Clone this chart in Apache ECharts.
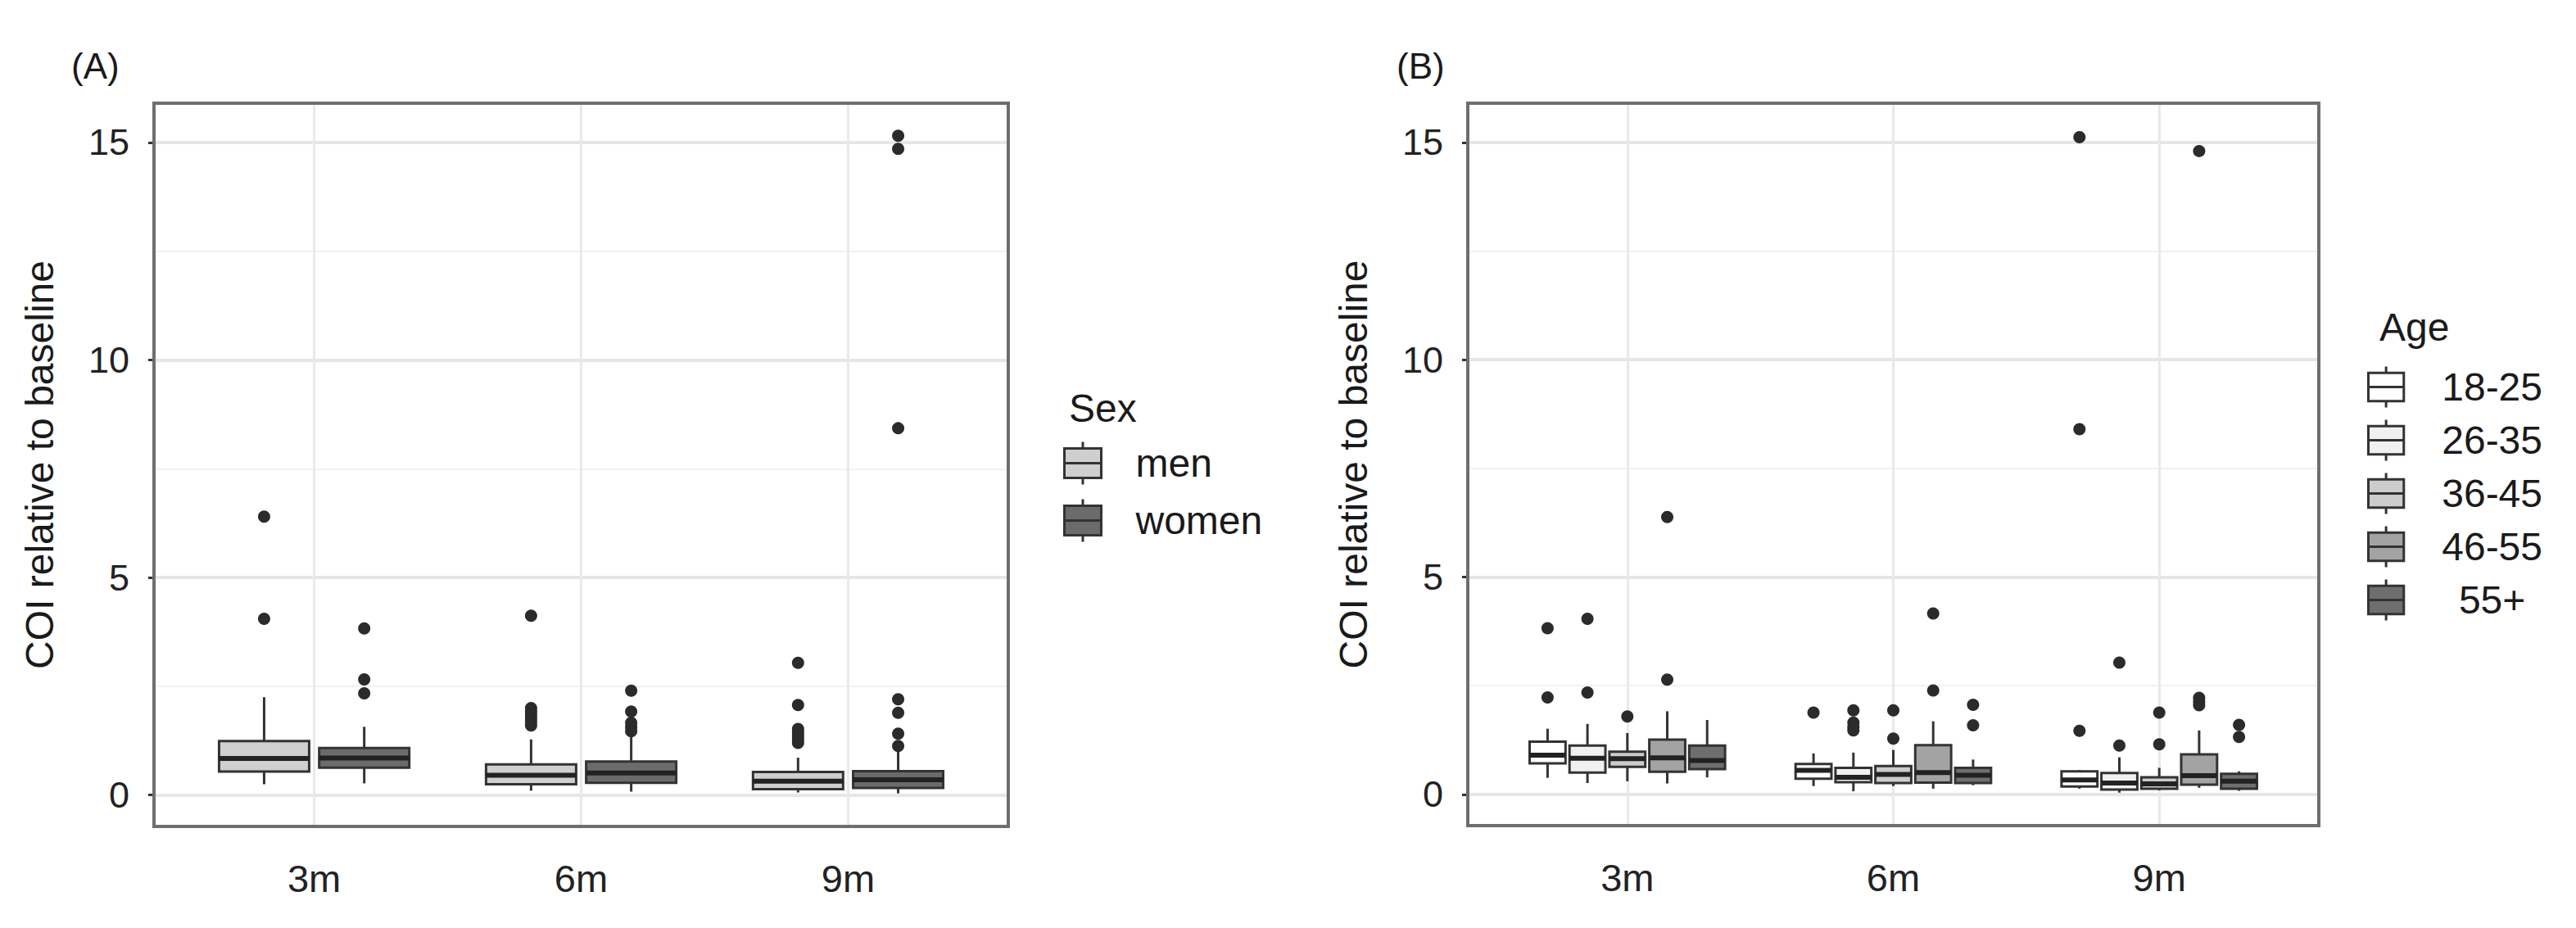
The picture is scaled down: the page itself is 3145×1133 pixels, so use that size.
<!DOCTYPE html>
<html>
<head>
<meta charset="utf-8">
<script src="https://cdn.jsdelivr.net/npm/echarts@6/dist/echarts.min.js"></script>
<style>
  html, body { margin: 0; padding: 0; background: #fff; }
  #chart { width: 3145px; height: 1133px; }
</style>
</head>
<body>
<div id="chart"></div>
<script>
var times = ['3m', '6m', '9m'];
var yTicks = [0, 5, 10, 15];
var yMinorTicks = [2.5, 7.5, 12.5];

// box stats per time point: [min, q1, median, q3, max]
var sexGroups = ['men', 'women'];
var menBox = [[0.25, 0.54, 0.84, 1.24, 2.25], [0.10, 0.25, 0.455, 0.705, 1.28], [0.06, 0.135, 0.32, 0.53, 0.86]];
var womenBox = [[0.27, 0.63, 0.85, 1.08, 1.57], [0.08, 0.28, 0.51, 0.77, 1.41], [0.04, 0.165, 0.355, 0.55, 1.00]];
var menOut = [[6.4, 4.05], [4.12, 2.0, 1.92, 1.84, 1.76, 1.68, 1.6], [3.04, 2.07, 1.52, 1.44, 1.36, 1.28, 1.2]];
var womenOut = [[3.83, 2.66, 2.34], [2.4, 1.92, 1.66, 1.56, 1.47], [15.15, 14.85, 8.43, 2.2, 1.89, 1.41, 1.13]];

var ageGroups = ['18-25', '26-35', '36-45', '46-55', '55+'];
var age1825Box = [[0.38, 0.71, 0.90, 1.21, 1.51], [0.19, 0.36, 0.55, 0.70, 0.94], [0.13, 0.18, 0.33, 0.53, 0.56]];
var age2635Box = [[0.26, 0.50, 0.83, 1.12, 1.62], [0.07, 0.28, 0.39, 0.61, 0.96], [0.04, 0.11, 0.26, 0.49, 0.85]];
var age3645Box = [[0.30, 0.63, 0.82, 0.98, 1.41], [0.19, 0.26, 0.46, 0.65, 1.02], [0.09, 0.13, 0.24, 0.39, 0.61]];
var age4655Box = [[0.25, 0.52, 0.84, 1.26, 1.91], [0.13, 0.27, 0.50, 1.13, 1.68], [0.15, 0.22, 0.43, 0.92, 1.47]];
var age55Box = [[0.39, 0.58, 0.78, 1.12, 1.71], [0.21, 0.26, 0.44, 0.61, 0.80], [0.08, 0.13, 0.30, 0.47, 0.53]];
var age1825Out = [[3.82, 2.23], [1.88], [15.12, 8.4, 1.46]];
var age2635Out = [[4.04, 2.34], [1.93, 1.65, 1.55, 1.47], [3.03, 1.12]];
var age3645Out = [[1.79], [1.93, 1.28], [1.88, 1.15]];
var age4655Out = [[6.38, 2.64], [4.16, 2.39], [14.8, 2.22, 2.13, 2.05]];
var age55Out = [[], [2.06, 1.59], [1.6, 1.32]];

var sexFill = ['#cfcfcf', '#6b6b6b'];
var ageFill = ['#ffffff', '#f0f0f0', '#cccccc', '#a3a3a3', '#6e6e6e'];

var FONT = 'Liberation Sans, Arial, sans-serif';
var EDGE = '#333333';
var LEGEND_ICON = 'path://M22.5,0L22.5,8M0,8L45,8L45,44L0,44ZM0,26L45,26M22.5,44L22.5,52';

// ggplot-like dodge: total width 0.75, 10% padding between boxes
function dodge(n, g) { return (g - (n - 1) / 2) * (0.75 / n); }
function halfWidth(n) { return 0.75 / n * 0.9 / 2; }

function boxSeries(name, stats, g, n, fill, axis) {
  return {
    name: name,
    type: 'custom',
    xAxisIndex: axis,
    yAxisIndex: axis,
    z: 3,
    silent: true,
    itemStyle: { color: fill, borderColor: EDGE },
    encode: { x: 0, y: [1, 2, 3, 4, 5] },
    data: stats.map(function (s, i) { return [i + 1].concat(s); }),
    renderItem: function (params, api) {
      var x = api.value(0) + dodge(n, g);
      var h = halfWidth(n);
      var lo = api.coord([x, api.value(1)]);
      var q1 = api.coord([x - h, api.value(2)]);
      var md = api.coord([x, api.value(3)]);
      var q3 = api.coord([x + h, api.value(4)]);
      var hi = api.coord([x, api.value(5)]);
      var wl = { stroke: EDGE, lineWidth: 3 };
      return {
        type: 'group',
        children: [
          { type: 'line', shape: { x1: hi[0], y1: hi[1], x2: hi[0], y2: q3[1] }, style: wl },
          { type: 'line', shape: { x1: lo[0], y1: lo[1], x2: lo[0], y2: q1[1] }, style: wl },
          { type: 'rect', shape: { x: q1[0], y: q3[1], width: q3[0] - q1[0], height: q1[1] - q3[1] },
            style: { fill: fill, stroke: EDGE, lineWidth: 3 } },
          { type: 'line', shape: { x1: q1[0], y1: md[1], x2: q3[0], y2: md[1] },
            style: { stroke: '#222', lineWidth: 6 } }
        ]
      };
    }
  };
}

function outlierSeries(name, lists, g, n, axis) {
  var pts = [];
  lists.forEach(function (vals, i) {
    vals.forEach(function (v) { pts.push([i + 1 + dodge(n, g), v]); });
  });
  return {
    name: name + ' outliers',
    type: 'scatter',
    xAxisIndex: axis,
    yAxisIndex: axis,
    z: 4,
    silent: true,
    symbolSize: 15,
    itemStyle: { color: '#2b2b2b', opacity: 1 },
    data: pts
  };
}

function gridLines(axis) {
  var major = { color: '#e6e6e6', width: 4, type: 'solid' };
  var minor = { color: '#f1f1f1', width: 2, type: 'solid' };
  var lines = yTicks.map(function (v) { return { yAxis: v, lineStyle: major }; })
    .concat(yMinorTicks.map(function (v) { return { yAxis: v, lineStyle: minor }; }))
    .concat(times.map(function (t, i) { return { xAxis: i + 1, lineStyle: { color: '#e9e9e9', width: 3, type: 'solid' } }; }));
  return {
    type: 'line',
    xAxisIndex: axis,
    yAxisIndex: axis,
    data: [],
    silent: true,
    markLine: { silent: true, symbol: 'none', z: 1, animation: false, label: { show: false }, data: lines }
  };
}

function xAxisFor(i) {
  return {
    gridIndex: i,
    type: 'value',
    min: 0.4,
    max: 3.6,
    splitLine: { show: false },
    axisLine: { show: false },
    axisTick: { customValues: [1, 2, 3], length: 8, lineStyle: { color: '#333', width: 3 } },
    axisLabel: {
      customValues: [1, 2, 3],
      formatter: function (v) { return times[Math.round(v) - 1]; },
      fontSize: 47, color: '#222', margin: 40, fontFamily: FONT
    }
  };
}

function yAxisFor(i) {
  return {
    gridIndex: i,
    type: 'value',
    min: -0.72,
    max: 15.9,
    splitLine: { show: false },
    axisLine: { show: false },
    axisTick: { customValues: yTicks, length: 7, lineStyle: { color: '#333', width: 3 } },
    axisLabel: { customValues: yTicks, fontSize: 45, color: '#222', margin: 30, fontFamily: FONT },
    name: 'COI relative to baseline',
    nameLocation: 'middle',
    nameRotate: 90,
    nameGap: 116,
    nameTextStyle: { fontSize: 48, color: '#1a1a1a', fontFamily: FONT }
  };
}

var series = [gridLines(0), gridLines(1)];
var sexBoxes = [menBox, womenBox];
var sexOuts = [menOut, womenOut];
sexGroups.forEach(function (name, g) {
  series.push(boxSeries(name, sexBoxes[g], g, sexGroups.length, sexFill[g], 0));
  series.push(outlierSeries(name, sexOuts[g], g, sexGroups.length, 0));
});
var ageBoxes = [age1825Box, age2635Box, age3645Box, age4655Box, age55Box];
var ageOuts = [age1825Out, age2635Out, age3645Out, age4655Out, age55Out];
ageGroups.forEach(function (name, g) {
  series.push(boxSeries(name, ageBoxes[g], g, ageGroups.length, ageFill[g], 1));
  series.push(outlierSeries(name, ageOuts[g], g, ageGroups.length, 1));
});

var myChart = echarts.init(document.getElementById('chart'), null, { renderer: 'svg' });

var option = {
  animation: false,
  backgroundColor: '#ffffff',
  textStyle: { fontFamily: FONT },
  title: [
    { text: '(A)', left: 82, top: 53, textStyle: { fontSize: 44, fontWeight: 'normal', color: '#1a1a1a', fontFamily: FONT } },
    { text: '(B)', left: 1700, top: 53, textStyle: { fontSize: 44, fontWeight: 'normal', color: '#1a1a1a', fontFamily: FONT } },
    { text: 'Sex', left: 1300, top: 469, textStyle: { fontSize: 48, fontWeight: 'normal', color: '#1a1a1a', fontFamily: FONT } },
    { text: 'Age', left: 2900, top: 370, textStyle: { fontSize: 48, fontWeight: 'normal', color: '#1a1a1a', fontFamily: FONT } }
  ],
  legend: [
    {
      orient: 'vertical', left: 1298, top: 538, padding: 0, itemGap: 15,
      itemWidth: 45, itemHeight: 52, selectedMode: false,
      itemStyle: { borderColor: EDGE, borderWidth: 3 },
      formatter: '{t|{name}}',
      textStyle: { rich: { t: { fontSize: 48, color: '#1a1a1a', fontFamily: FONT, padding: [0, 0, 0, 37], lineHeight: 50 } } },
      data: sexGroups.map(function (name, g) {
        return { name: name, icon: LEGEND_ICON, itemStyle: { color: sexFill[g], borderColor: EDGE, borderWidth: 3 } };
      })
    },
    {
      orient: 'vertical', left: 2890, top: 446, padding: 0, itemGap: 12,
      itemWidth: 45, itemHeight: 50, selectedMode: false,
      itemStyle: { borderColor: EDGE, borderWidth: 3 },
      formatter: '{c|{name}}',
      textStyle: { rich: { c: { fontSize: 48, color: '#1a1a1a', fontFamily: FONT, width: 204, align: 'center', lineHeight: 50 } } },
      data: ageGroups.map(function (name, g) {
        return { name: name, icon: LEGEND_ICON, itemStyle: { color: ageFill[g], borderColor: EDGE, borderWidth: 3 } };
      })
    }
  ],
  grid: [
    { left: 188, top: 126, width: 1043, height: 883, show: true, borderColor: '#6e6e6e', borderWidth: 4, z: 10 },
    { left: 1792, top: 126, width: 1039, height: 882, show: true, borderColor: '#6e6e6e', borderWidth: 4, z: 10 }
  ],
  xAxis: [xAxisFor(0), xAxisFor(1)],
  yAxis: [yAxisFor(0), yAxisFor(1)],
  series: series
};

myChart.setOption(option);
</script>
</body>
</html>
